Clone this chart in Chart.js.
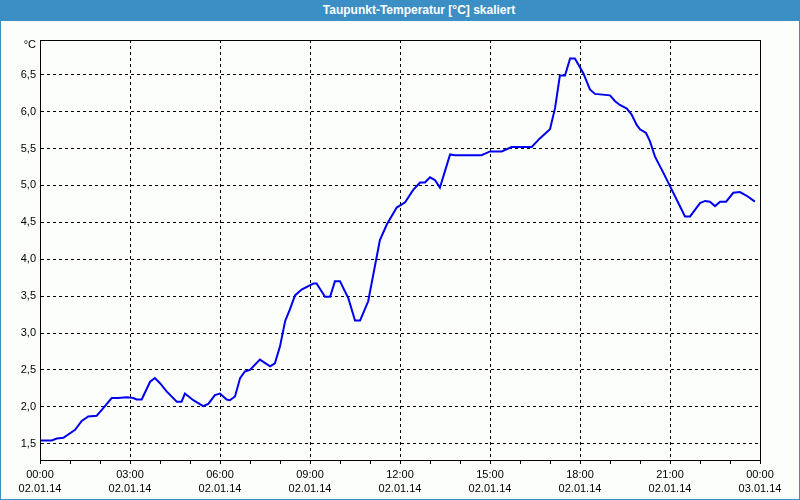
<!DOCTYPE html>
<html>
<head>
<meta charset="utf-8">
<script src="https://cdn.jsdelivr.net/npm/chart.js@4"></script>
<style>
  body { margin: 0; background: #fcfefc; }
  #wrap { position: relative; width: 800px; height: 500px; }
  #title {
    position: absolute; left: 0; top: 0; width: 800px; height: 21px;
    background: #3c8fc5; color: #fff;
    font: bold 12px "Liberation Sans", Arial, sans-serif;
    line-height: 20px; text-align: center; box-sizing: border-box;
    padding-left: 38px;
  }
  canvas { position: absolute; left: 0; top: 0; }
</style>
</head>
<body>
<div id="wrap">
  <canvas id="chart" width="800" height="500"></canvas>
  <div id="title">Taupunkt-Temperatur [°C] skaliert</div>
</div>
<script>
// hours since 02.01.14 00:00
const hours = [
  0, 0.39, 0.56, 0.78, 1.17, 1.39, 1.61, 1.89, 2.06, 2.39, 2.61, 2.89,
  3.11, 3.22, 3.39, 3.67, 3.83, 4.0, 4.22, 4.56, 4.72, 4.83, 5.11, 5.44,
  5.61, 5.83, 6.0, 6.22, 6.33, 6.5, 6.67, 6.83, 7.0, 7.33, 7.67, 7.83,
  8.0, 8.17, 8.33, 8.5, 8.72, 9.11, 9.22, 9.5, 9.67, 9.83, 10.0, 10.28,
  10.5, 10.67, 10.94, 11.33, 11.56, 11.89, 12.17, 12.44, 12.67, 12.83, 13.0, 13.17,
  13.33, 13.67, 13.83, 14.72, 15.0, 15.39, 15.72, 16.39, 16.67, 17.0, 17.17, 17.33,
  17.5, 17.67, 17.83, 18.11, 18.33, 18.5, 19.0, 19.17, 19.33, 19.56, 19.72, 19.89,
  20.0, 20.2, 20.33, 20.5, 20.78, 21.0, 21.22, 21.5, 21.67, 22.0, 22.17, 22.33,
  22.5, 22.67, 22.87, 23.11, 23.33, 23.56, 23.83
];
const dewpoint = [
  1.545, 1.545, 1.57, 1.58, 1.69, 1.81, 1.87, 1.88, 1.96, 2.12, 2.12, 2.13,
  2.12, 2.10, 2.10, 2.34, 2.39, 2.32, 2.21, 2.07, 2.07, 2.18, 2.09, 2.01,
  2.04, 2.16, 2.18, 2.10, 2.09, 2.14, 2.39, 2.48, 2.50, 2.64, 2.55, 2.59,
  2.82, 3.16, 3.32, 3.51, 3.59, 3.67, 3.67, 3.49, 3.49, 3.70, 3.70, 3.47,
  3.17, 3.17, 3.43, 4.26, 4.47, 4.70, 4.77, 4.94, 5.04, 5.04, 5.11, 5.07,
  4.97, 5.42, 5.41, 5.41, 5.46, 5.46, 5.52, 5.52, 5.64, 5.76, 6.05, 6.49,
  6.49, 6.72, 6.72, 6.52, 6.30, 6.24, 6.22, 6.14, 6.09, 6.04, 5.96, 5.82,
  5.76, 5.71, 5.60, 5.39, 5.17, 4.99, 4.81, 4.58, 4.58, 4.76, 4.79, 4.78,
  4.72, 4.78, 4.78, 4.90, 4.91, 4.86, 4.78
];
const timeLabels = ["00:00", "03:00", "06:00", "09:00", "12:00", "15:00", "18:00", "21:00", "00:00"];
const dateLabels = ["02.01.14", "02.01.14", "02.01.14", "02.01.14", "02.01.14", "02.01.14", "02.01.14", "02.01.14", "03.01.14"];
const yMin = 1.28;
const yMax = 6.97;
const unit = "°C";

const FONT = "'Liberation Sans', Arial, sans-serif";

const framePlugin = {
  id: "frame",
  beforeDraw(chart) {
    const ctx = chart.ctx;
    ctx.save();
    ctx.fillStyle = "#fcfefc";
    ctx.fillRect(0, 0, chart.width, chart.height);
    ctx.restore();
  },
  afterDraw(chart) {
    const ctx = chart.ctx;
    const a = chart.chartArea;
    ctx.save();
    ctx.strokeStyle = "#000";
    ctx.lineWidth = 1;
    ctx.strokeRect(Math.round(a.left) + 0.5, Math.round(a.top) + 0.5,
      Math.round(a.right - a.left), Math.round(a.bottom - a.top));
    // unit label above the y axis
    ctx.fillStyle = "#000";
    ctx.font = "11px " + FONT;
    ctx.textAlign = "right";
    ctx.textBaseline = "middle";
    ctx.fillText(unit, a.left - 4, a.top + 5);
    // outer blue frame
    ctx.strokeStyle = "#3c8fc5";
    ctx.strokeRect(0.5, 0.5, chart.width - 1, chart.height - 1);
    ctx.restore();
  },
};

new Chart(document.getElementById("chart"), {
  type: "line",
  data: {
    datasets: [{
      data: hours.map((h, i) => ({ x: h, y: dewpoint[i] })),
      borderColor: "#0000f0",
      borderWidth: 2,
      pointRadius: 0,
      tension: 0,
      fill: false,
    }],
  },
  options: {
    responsive: false,
    animation: false,
    devicePixelRatio: 1,
    layout: { padding: { left: 0, top: 40, right: 40, bottom: 0 } },
    plugins: {
      legend: { display: false },
      tooltip: { enabled: false },
    },
    scales: {
      x: {
        type: "linear",
        min: 0,
        max: 24,
        afterFit: (s) => { s.height = 40; },
        afterBuildTicks: (s) => {
          s.ticks = [];
          for (let h = 0; h <= 24; h++) s.ticks.push({ value: h });
        },
        grid: {
          color: (c) => (c.tick && c.tick.value % 3 === 0 ? "#000" : "rgba(0,0,0,0)"),
          tickColor: "#000",
          tickLength: 4,
          lineWidth: 1,
        },
        border: { color: "#000", dash: [3, 3] },
        ticks: {
          autoSkip: false,
          maxRotation: 0,
          padding: 4,
          color: "#000",
          font: { family: FONT, size: 11, lineHeight: "14px" },
          callback: (v) => (v % 3 === 0 ? [timeLabels[v / 3], dateLabels[v / 3]] : ""),
        },
      },
      y: {
        min: yMin,
        max: yMax,
        afterFit: (s) => { s.width = 40; },
        grid: { color: "#000", drawTicks: false, lineWidth: 1 },
        border: { color: "#000", dash: [3, 3] },
        ticks: {
          stepSize: 0.5,
          includeBounds: false,
          padding: 4,
          color: "#000",
          font: { family: FONT, size: 11 },
          callback: (v) => v.toFixed(1).replace(".", ","),
        },
      },
    },
  },
  plugins: [framePlugin],
});
</script>
</body>
</html>
